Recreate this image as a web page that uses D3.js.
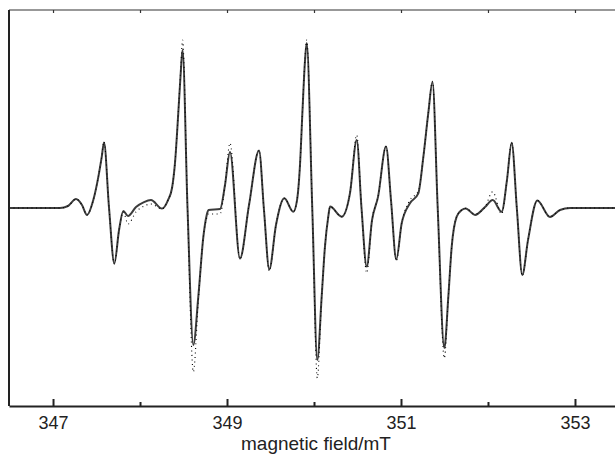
<!DOCTYPE html>
<html>
  <head>
    <meta charset="utf-8">
    <script src="https://d3js.org/d3.v7.min.js"></script>
    <style>
        body { margin: 0; background: #ffffff; }
        svg { display: block; }
        .tick text { font-family: "Liberation Sans", Arial, sans-serif; font-size: 18px; fill: #222; }
    </style>
  </head>
  <body>
    <div id="chartcontainer"></div>
    <script type="text/javascript">

      // field positions (mT)
      var field = [346.494, 347.080, 347.172, 347.264, 347.333, 347.391, 347.463, 347.521, 347.560, 347.586,
                   347.644, 347.705, 347.759, 347.808, 347.862, 347.954, 348.046, 348.126, 348.253, 348.322,
                   348.368, 348.402, 348.440, 348.468, 348.489, 348.546, 348.613, 348.670, 348.728, 348.767,
                   348.787, 348.920, 348.977, 349.034, 349.149, 349.253, 349.368, 349.425, 349.486, 349.563,
                   349.659, 349.762, 349.805, 349.839, 349.868, 349.897, 349.916, 349.980, 350.038, 350.088,
                   350.126, 350.164, 350.184, 350.318, 350.414, 350.491, 350.546, 350.606, 350.667, 350.736,
                   350.828, 350.885, 350.946, 351.008, 351.103, 351.199, 351.257, 351.314, 351.362, 351.422,
                   351.498, 351.544, 351.583, 351.640, 351.698, 351.744, 351.851, 351.966, 352.054, 352.157,
                   352.218, 352.272, 352.333, 352.394, 352.460, 352.567, 352.713, 352.828, 352.943, 353.460];

      // simulated spectrum (solid line), arbitrary units
      var simulated = [0, 0, 0.010, 0.045, 0.015, -0.035, 0.040, 0.157, 0.258, 0.331,
                       0, -0.280, -0.111, -0.015, -0.040, 0.005, 0.030, 0.040, -0.003, 0.040,
                       0.101, 0.227, 0.480, 0.682, 0.798, 0, -0.692, -0.449, -0.146, -0.035,
                       -0.010, -0.005, 0.116, 0.283, -0.255, 0.015, 0.290, -0.010, -0.310, -0.086,
                       0.049, -0.019, 0.040, 0.217, 0.495, 0.746, 0.833, 0, -0.768, -0.449,
                       -0.195, -0.044, 0.007, -0.044, 0.076, 0.343, 0, -0.296, -0.061, 0.056,
                       0.310, 0.040, -0.260, -0.077, 0.024, 0.074, 0.258, 0.480, 0.636, 0,
                       -0.707, -0.449, -0.195, -0.044, -0.010, -0.002, -0.035, 0.005, 0.040, -0.019,
                       0.141, 0.330, -0.010, -0.338, -0.162, 0.038, -0.045, -0.010, 0, 0];

      // experimental spectrum (dotted), arbitrary units
      var experimental = [0, 0, 0.010, 0.045, 0.015, -0.035, 0.040, 0.157, 0.258, 0.335,
                          0, -0.283, -0.111, -0.020, -0.081, -0.020, 0.010, 0.020, -0.005, 0.040,
                          0.101, 0.227, 0.480, 0.700, 0.848, 0, -0.828, -0.470, -0.146, -0.050,
                          -0.030, -0.030, 0.116, 0.328, -0.258, 0.015, 0.292, -0.010, -0.318, -0.086,
                          0.049, -0.019, 0.040, 0.217, 0.495, 0.760, 0.848, 0, -0.859, -0.449,
                          -0.195, -0.044, 0.007, -0.044, 0.076, 0.369, 0, -0.328, -0.061, 0.056,
                          0.310, 0.040, -0.268, -0.077, 0.040, 0.085, 0.258, 0.480, 0.640, 0,
                          -0.758, -0.449, -0.195, -0.044, -0.010, -0.002, -0.030, 0.005, 0.082, -0.030,
                          0.141, 0.332, -0.010, -0.343, -0.162, 0.038, -0.045, -0.010, 0, 0];

      var majorTicks = [347, 349, 351, 353];
      var minorTicks = [348, 350, 352];
      var allTicks = [347, 348, 349, 350, 351, 352, 353];

      var width = 615, height = 455;
      var mLeft = 9, mTop = 10, mBottom = 406;

      var svg = d3.select("#chartcontainer").append("svg")
          .attr("width", width)
          .attr("height", height);

      var x = d3.scaleLinear().domain([346.494, 353.46]).range([mLeft, width]);
      var y = d3.scaleLinear().domain([-1, 1]).range([mBottom, mTop]);

      var simData = field.map(function(f, i) { return [f, simulated[i]]; });
      var expData = field.map(function(f, i) { return [f, experimental[i]]; });

      var line = d3.line()
          .x(function(d) { return x(d[0]); })
          .y(function(d) { return y(d[1]); })
          .curve(d3.curveMonotoneX);

      // simulated trace
      svg.append("path")
          .datum(simData)
          .attr("fill", "none")
          .attr("stroke", "#3c3c3c")
          .attr("stroke-width", 2)
          .attr("stroke-linejoin", "round")
          .attr("d", line);

      // experimental trace
      svg.append("path")
          .datum(expData)
          .attr("fill", "none")
          .attr("stroke", "#000")
          .attr("stroke-width", 1.1)
          .attr("stroke-dasharray", "1,3.5")
          .attr("d", line);

      // frame: top line and left line
      svg.append("line")
          .attr("x1", mLeft).attr("x2", width)
          .attr("y1", mTop).attr("y2", mTop)
          .attr("stroke", "#333").attr("stroke-width", 1.2);
      svg.append("line")
          .attr("x1", mLeft).attr("x2", mLeft)
          .attr("y1", mTop).attr("y2", mBottom)
          .attr("stroke", "#222").attr("stroke-width", 2);

      // top ticks, small and inward
      var topAxis = svg.append("g")
          .attr("transform", "translate(0," + mTop + ")")
          .call(d3.axisTop(x).tickValues(allTicks).tickSizeInner(-3).tickSizeOuter(0).tickFormat(""));
      topAxis.select(".domain").remove();
      topAxis.selectAll(".tick line").attr("stroke", "#333").attr("stroke-width", 1.2);

      // bottom axis, minor ticks
      var minorAxis = svg.append("g")
          .attr("transform", "translate(0," + mBottom + ")")
          .call(d3.axisBottom(x).tickValues(minorTicks).tickSizeInner(-4).tickSizeOuter(0).tickFormat(""));
      minorAxis.select(".domain").remove();
      minorAxis.selectAll(".tick line").attr("stroke", "#222").attr("stroke-width", 2);

      // bottom axis, major ticks with labels
      var xAxis = svg.append("g")
          .attr("transform", "translate(0," + mBottom + ")")
          .call(d3.axisBottom(x).tickValues(majorTicks).tickSizeInner(-7).tickSizeOuter(0)
                .tickPadding(10).tickFormat(d3.format("d")));
      xAxis.select(".domain").attr("stroke", "#222").attr("stroke-width", 2);
      xAxis.selectAll(".tick line").attr("stroke", "#222").attr("stroke-width", 2);

      // axis title
      svg.append("text")
          .attr("x", 316)
          .attr("y", 450)
          .attr("text-anchor", "middle")
          .style("font-family", "Liberation Sans, Arial, sans-serif")
          .style("font-size", "19px")
          .style("fill", "#222")
          .text("magnetic field/mT");
    </script>
  </body>
</html>
